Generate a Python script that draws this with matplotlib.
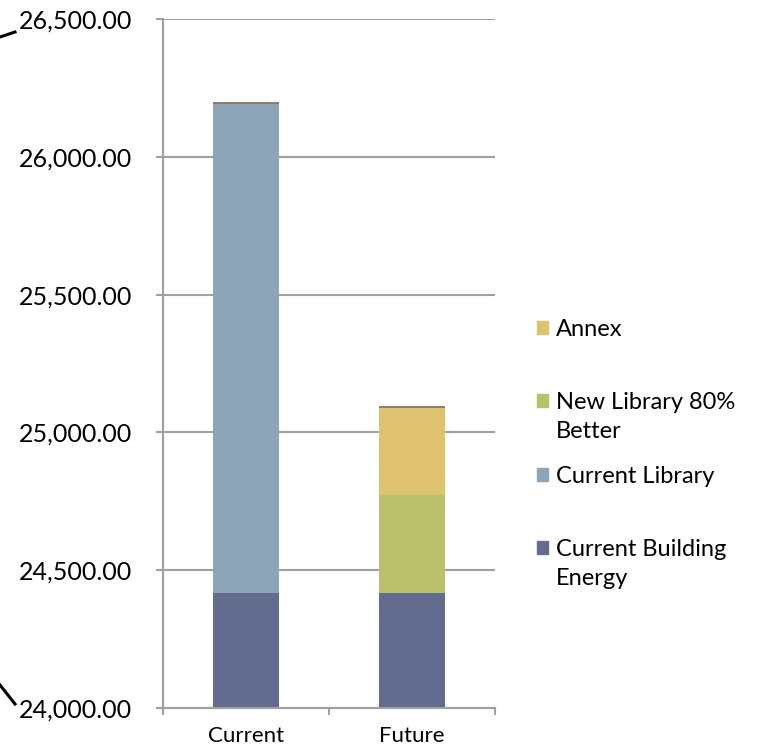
import matplotlib.pyplot as plt
from matplotlib.lines import Line2D
from matplotlib.patches import Rectangle
from matplotlib.ticker import FuncFormatter
import numpy as np

plt.rcParams['font.family'] = ['Lato', 'DejaVu Sans']

categories = ['Current', 'Future']
building_energy = [24417, 24417]
current_library = [1778, 0]
new_library = [0, 356]
annex = [0, 319]

series_names = ['Current Building\nEnergy', 'Current Library', 'New Library 80%\nBetter', 'Annex']
series_colors = ['#636b8f', '#8da5b8', '#bbc06c', '#dfc26f']
y_ticks = [24000, 24500, 25000, 25500, 26000, 26500]

W, H = 763, 749
fig = plt.figure(figsize=(W / 100, H / 100), dpi=100)
ax = fig.add_axes([163 / W, 41 / H, 332 / W, 689 / H])

x = np.arange(len(categories))
width = 0.4
bottom = np.zeros(len(categories))
series = [building_energy, current_library, new_library, annex]
for vals, col in zip(series, series_colors):
    vals = np.array(vals, dtype=float)
    ax.bar(x, vals, width, bottom=bottom, color=col, zorder=3)
    bottom = bottom + vals
# thin darker cap on top of each stack
ax.hlines(bottom, x - width / 2, x + width / 2, color='#8a6a5c', lw=1.2, zorder=4)

ax.set_ylim(24000, 26500)
ax.set_xlim(-0.5, 1.5)
ax.set_yticks(y_ticks)
ax.yaxis.set_major_formatter(FuncFormatter(lambda v, p: f'{v:,.2f}'))
ax.grid(axis='y', color='#a0a0a0', lw=1.5, zorder=0)
for s in ['top', 'right']:
    ax.spines[s].set_visible(False)
for s in ['left', 'bottom']:
    ax.spines[s].set_color('#a0a0a0')
    ax.spines[s].set_linewidth(1.5)
    ax.spines[s].set_zorder(5)

ax.tick_params(axis='y', length=5, width=1.5, color='#a0a0a0', pad=17, labelsize=18)
ax.set_xticks(x)
ax.set_xticklabels(categories)
ax.tick_params(axis='x', length=0, pad=13, labelsize=16)
ax.set_xticks([-0.5, 0.5, 1.5], minor=True)
ax.tick_params(axis='x', which='minor', length=5, width=1.5, color='#a0a0a0')

# legend entries, Excel-style spacing (pixel centre of first text line)
legend_rows = [(3, 328), (2, 401), (1, 475), (0, 548)]
for idx, yc in legend_rows:
    fig.patches.append(Rectangle((537 / W, 1 - (yc + 6) / H), 11 / W, 13 / H,
                                 transform=fig.transFigure, color=series_colors[idx]))
    fig.text(556 / W, 1 - (yc - 9) / H, series_names[idx], fontsize=17, va='top',
             linespacing=1.45)

# cropped decoration lines on the left edge
fig.add_artist(Line2D([0, 15 / W], [1 - 37 / H, 1 - 32 / H], color='black', lw=2.2))
fig.add_artist(Line2D([0, 15 / W], [1 - 685 / H, 1 - 704 / H], color='black', lw=2.2))

fig.savefig('out.png', dpi=100)
